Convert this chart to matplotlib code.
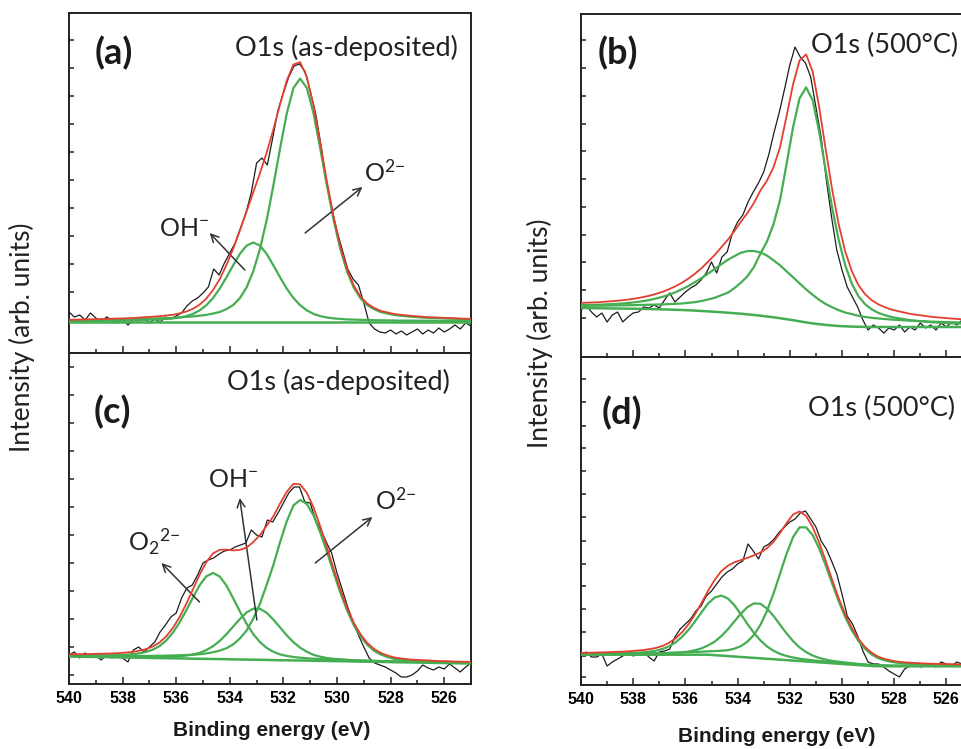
import numpy as np
import matplotlib
matplotlib.use("Agg")
import matplotlib.pyplot as plt
from matplotlib.font_manager import FontProperties
from matplotlib.ticker import MultipleLocator

plt.rcParams["font.family"] = ["Lato", "DejaVu Sans"]
plt.rcParams["mathtext.default"] = "regular"

# binding energy grids (eV)
e_fit = np.arange(540.125, 524.8, -0.25)   # fitted curves, 62 points
e_raw = np.arange(540.0, 524.95, -0.2)     # measured spectra, 76 points

x_ticks = [540, 538, 536, 534, 532, 530, 528, 526]
x_labels = ["540", "538", "536", "534", "532", "530", "528", "526"]

# ---------------- (a) O1s as-deposited ----------------
a_raw = [41, 36, 38, 33, 40, 35, 31, 36, 33, 30,
         34, 28, 33, 32, 35, 30, 34, 31, 36, 34,
         37, 40, 47, 52, 55, 60, 66, 84, 78, 90,
         100, 110, 125, 140, 160, 190, 195, 188, 215, 243,
         260, 276, 287, 289, 282, 262, 240, 208, 172, 145,
         122, 103, 84, 74, 68, 50, 30, 24, 21, 20,
         23, 19, 22, 18, 21, 24, 19, 23, 20, 25,
         21, 24, 28, 24, 30, 27]
a_bg = 31.5
a_o2 = [1.1, 1.2, 1.3, 1.4, 1.4, 1.5, 1.6, 1.8, 1.9, 2.0, 2.2, 2.4,
        2.7, 2.9, 3.2, 3.4, 3.6, 4.1, 4.6, 5.1, 5.8, 6.6, 8.0, 9.5, 12.4, 16.5,
        23.3, 34.0, 50.1, 72.4, 101.3, 135.8, 173, 208, 233.5, 243,
        233.5, 208, 173, 135.8, 101.3, 72.4, 50.1, 34.0, 23.3, 16.5, 12.4, 9.5,
        8.0, 6.6, 5.8, 5.1, 4.6, 4.1,
        3.6, 3.4, 3.2, 2.9, 2.7, 2.4, 2.2, 2.0]
a_oh = [0.6, 0.6, 0.6, 0.7, 0.8, 0.9, 0.9, 1.0, 1.1, 1.2, 1.3, 1.5,
        1.7, 1.9, 2.1, 2.6, 3.1, 4.0, 5.4, 7.6, 11.1, 16.3, 23.5, 32.9, 44.2,
        56.2, 67.6, 75.9, 79, 75.9, 67.6, 56.2, 44.2, 32.9, 23.5, 16.3, 11.1,
        7.6, 5.4, 4.0, 3.1, 2.6, 2.1, 1.9, 1.7, 1.5, 1.3, 1.2, 1.1, 1.0, 0.9,
        0.9, 0.8, 0.8,
        0.7, 0.7, 0.6, 0.6, 0.6, 0.5, 0.5, 0.5]

# ---------------- (b) O1s 500 C ----------------
b_raw = [47, 52, 45, 40, 44, 35, 42, 45, 35, 40,
         44, 45, 50, 49, 52, 49, 57, 64, 55, 60,
         65, 69, 72, 77, 84, 95, 84, 100, 105, 124,
         135, 142, 155, 165, 174, 185, 203, 225, 245, 268,
         292, 310, 300, 294, 280, 250, 220, 177, 140, 107,
         87, 70, 60, 50, 37, 27, 32, 29, 24, 29,
         27, 32, 25, 30, 27, 34, 29, 32, 27, 34,
         30, 35, 32, 37, 34, 37]
b_bg = [49.0, 49.0, 48.9, 48.8, 48.7, 48.6, 48.5, 48.4, 48.3, 48.2,
        48.1, 48.0, 47.8, 47.6, 47.4, 47.2, 47.0, 46.7, 46.4, 46.0,
        45.6, 45.2, 44.8, 44.3, 43.8, 43.3, 42.7, 42.0, 41.3, 40.5,
        39.7, 38.8, 37.8, 36.8, 35.7, 34.6, 33.6, 32.8, 32.1, 31.5,
        31.0, 30.7, 30.4, 30.2, 30.1, 30.0, 30.0, 30.0, 30.0, 30.0,
        30.0, 30.0, 30.0, 30.0, 30.0, 30.0, 30.0, 30.0, 30.0, 30.0,
        30.0, 30.0]
b_o2 = [2.2, 2.3, 2.4, 2.5, 2.7, 2.9, 3.1, 3.3, 3.5, 3.7,
        4.0, 4.3, 4.6, 5.0, 5.5, 6.0, 6.5, 7.5, 8.5, 10,
        12, 14, 17, 20, 25, 31, 38, 48, 62, 75,
        93, 118, 155, 193, 223, 235,
        223.3, 192.7, 154.6, 117.5, 85.8, 60.9, 43.0, 30.8, 23.0, 17.9,
        14.3, 12.0, 10.1, 8.9, 7.8, 6.8, 6.1, 5.6, 4.9, 4.5,
        4.2, 3.8, 3.5, 3.3, 3.0, 2.8]
b_oh = [2.7, 2.9, 3.2, 3.4, 3.8, 4.2, 4.6, 5.2, 5.9, 6.7,
        7.8, 9.0, 10.7, 12.6, 14.9, 17.6, 20.9, 24.4, 28.6, 33.0,
        37.9, 42.9, 47.9, 52.9, 57.0, 60.9, 63.2, 64,
        63.2, 60.9, 57.0, 52.9, 47.9, 42.9, 37.9, 33.0, 28.6, 24.4,
        20.9, 18.2, 15.8, 13.8, 12.5, 11.0, 10.0, 9.2, 8.6, 8.0,
        7.5, 7.1, 6.7, 6.3, 6.0, 5.7, 5.4, 5.2, 5.0, 4.8,
        4.6, 4.4, 4.2, 4.0]

# ---------------- (c) O1s as-deposited ----------------
c_raw = [30, 33, 27, 32, 28, 30, 25, 30, 27, 29,
         27, 23, 35, 38, 33, 38, 43, 53, 60, 68,
         72, 87, 97, 100, 110, 122, 125, 127, 131, 134,
         135, 138, 140, 142, 155, 150, 148, 165, 163, 172,
         182, 192, 198, 198, 183, 182, 165, 155, 143, 132,
         112, 95, 78, 63, 50, 38, 27, 22, 20, 18,
         15, 12, 8, 8, 10, 14, 20, 17, 15, 18,
         16, 21, 17, 13, 18, 22]
c_bg = [28.6, 28.4, 28.3, 28.2, 28.1, 28.0, 27.9, 27.7, 27.6, 27.5,
        27.4, 27.3, 27.2, 27.0, 26.9, 26.8, 26.7, 26.6, 26.5, 26.3,
        26.2, 26.1, 26.0, 25.9, 25.8, 25.6, 25.5, 25.4, 25.3, 25.2,
        25.1, 24.9, 24.8, 24.7, 24.6, 24.5, 24.4, 24.2, 24.1, 24.0,
        23.9, 23.8, 23.7, 23.5, 23.4, 23.3, 23.2, 23.1, 23.0, 22.8,
        22.7, 22.6, 22.5, 22.4, 22.3, 22.1, 22.0, 21.9, 21.8, 21.7,
        21.6, 21.4]
c_o22 = [1.0, 1.1, 1.2, 1.3, 1.5, 1.6, 1.8, 2.1, 2.3, 2.8,
         3.4, 4.4, 5.8, 8.3, 12.0, 17.7, 25.6, 35.9, 48.1, 61.2,
         73.6, 82.6, 86,
         82.6, 73.6, 61.2, 48.1, 35.9, 25.6, 17.7, 12.0, 8.3, 5.8,
         4.4, 3.4, 2.8, 2.3, 2.1, 1.8, 1.6, 1.5, 1.3, 1.2,
         1.1, 1.0, 0.9, 0.9, 0.8, 0.8, 0.7, 0.7, 0.7, 0.6,
         0.6, 0.6, 0.6, 0.5, 0.5, 0.5, 0.5, 0.5, 0.4]
c_oh = [0.4, 0.4, 0.4, 0.4, 0.5, 0.5, 0.6, 0.6, 0.7, 0.8,
        0.8, 0.9, 1.0, 1.1, 1.3, 1.5, 1.9, 2.3, 3.0, 4.2,
        6.0, 8.8, 12.8, 18.2, 25.0, 32.8, 40.5, 47.1, 51.0,
        51.0, 47.1, 40.5, 32.8, 25.0, 18.2, 12.8, 8.8, 6.0, 4.2,
        3.0, 2.3, 1.9, 1.5, 1.3, 1.1, 1.0, 0.9, 0.8, 0.8,
        0.7, 0.6, 0.6, 0.5, 0.5, 0.4, 0.4, 0.4, 0.4, 0.3,
        0.3, 0.3, 0.3]
c_o2 = [0.8, 0.8, 0.9, 0.9, 1.0, 1.1, 1.1, 1.2, 1.3, 1.4,
        1.5, 1.7, 1.9, 2.1, 2.3, 2.6, 2.8, 3.1, 3.5, 3.9,
        4.6, 5.5, 6.8, 8.5, 11, 15, 21, 29, 41, 56,
        75, 95, 118, 139, 155, 160.5,
        156.6, 145.4, 128.4, 109.1, 88.4, 68.5, 51.0, 36.4, 25.4, 17.0,
        11.2, 7.5, 5.0, 3.4, 2.6, 1.9, 1.6, 1.4, 1.3, 1.1,
        1.0, 1.0, 0.9, 0.8, 0.8, 0.8]

# ---------------- (d) O1s 500 C ----------------
d_raw = [23, 27, 22, 22, 25, 13, 17, 20, 23, 27,
         23, 25, 27, 22, 18, 27, 28, 30, 42, 50,
         55, 60, 68, 73, 83, 88, 95, 102, 107, 110,
         115, 118, 135, 128, 120, 132, 135, 140, 147, 152,
         157, 160, 166, 168, 160, 152, 138, 130, 118, 105,
         85, 63, 55, 43, 28, 17, 15, 15, 12, 8,
         5, 2, 10, 13, 15, 12, 13, 15, 12, 17,
         15, 13, 17, 15, 13, 15]
d_bg = [24.3, 24.3, 24.3, 24.3, 24.3, 24.3, 24.3, 24.3, 24.3, 24.3,
        24.3, 24.3, 24.3, 24.3, 24.3, 24.3, 24.3, 24.3, 24.3, 24.3,
        24.3, 23.8, 23.4, 22.9, 22.5, 22.0, 21.6, 21.1, 20.7, 20.2,
        19.8, 19.3, 18.9, 18.4, 18.0, 17.5, 17.1, 16.6, 16.2, 15.7,
        15.3, 14.8, 14.4, 13.9, 13.5, 13.0, 12.8, 12.8, 12.7, 12.7,
        12.7, 12.7, 12.7, 12.7, 12.7, 12.7, 12.7, 12.7, 12.7, 12.7,
        12.7, 12.7]
d_o22 = [0.7, 0.8, 0.8, 0.9, 1.0, 1.1, 1.3, 1.4, 1.6, 2.0,
         2.3, 3.1, 4.1, 5.8, 8.4, 12.4, 17.9, 25.0, 33.5, 42.7,
         51.4, 57.7, 60,
         57.7, 51.4, 42.7, 33.5, 25.0, 17.9, 12.4, 8.4, 5.8, 4.1,
         3.1, 2.3, 2.0, 1.6, 1.4, 1.3, 1.1, 1.0, 0.9, 0.8,
         0.8, 0.7, 0.7, 0.6, 0.6, 0.6, 0.5, 0.5, 0.5, 0.5,
         0.4, 0.4, 0.4, 0.4, 0.4, 0.3, 0.3, 0.3, 0.3]
d_oh = [0.4, 0.4, 0.5, 0.5, 0.6, 0.6, 0.7, 0.7, 0.8, 0.9,
        1.0, 1.1, 1.2, 1.4, 1.7, 2.0, 2.4, 3.2, 4.5, 6.4,
        9.4, 13.6, 19.5, 26.7, 35.0, 43.3, 50.3, 54.5,
        54.5, 50.3, 43.3, 35.0, 26.7, 19.5, 13.6, 9.4, 6.4, 4.5,
        3.2, 2.4, 2.0, 1.7, 1.4, 1.2, 1.1, 1.0, 0.9, 0.8,
        0.7, 0.7, 0.6, 0.6, 0.5, 0.5, 0.4, 0.4, 0.4, 0.4,
        0.3, 0.3, 0.3, 0.3]
d_o2 = [0.7, 0.7, 0.7, 0.8, 0.8, 0.9, 0.9, 1.0, 1.1, 1.2,
        1.3, 1.4, 1.5, 1.6, 1.8, 2.0, 2.2, 2.4, 2.7, 3.0,
        3.4, 4.1, 4.9, 5.9, 7.8, 10.9, 15.7, 23.0, 33.5, 47.8,
        65.6, 85.9, 106.2, 123.5, 133.7,
        134.1, 126.9, 113.9, 97.5, 79.7, 62.4, 47.1, 34.3, 24.3, 16.9,
        11.7, 8.2, 5.9, 4.5, 3.5, 2.9, 2.5, 2.2, 2.0, 1.8,
        1.6, 1.5, 1.4, 1.3, 1.2, 1.1, 1.0]

BLACK = "#1c1c1c"
RED = "#e2402f"
GREEN = "#45ad52"
ARROW = "#333333"

W, H = 962, 749
fig = plt.figure(figsize=(W / 100, H / 100), dpi=100)


def add_panel(x0, top, x1, bottom):
    return fig.add_axes([x0 / W, 1 - bottom / H, (x1 - x0) / W, (bottom - top) / H])


tick_font = FontProperties(family=["Liberation Sans", "DejaVu Sans"],
                           weight="bold", size=11.5)


def draw(ax, raw, bg, comps, ylim, yticks, show_x):
    base = np.zeros(len(e_fit)) + np.asarray(bg, dtype=float)
    comps = [np.asarray(c, dtype=float) for c in comps]
    ax.plot(e_raw, raw, color=BLACK, lw=0.9, zorder=2)
    ax.plot(e_fit, base, color=GREEN, lw=1.8, zorder=3)
    for c in comps:
        ax.plot(e_fit, base + c, color=GREEN, lw=1.6, zorder=3)
    ax.plot(e_fit, base + np.sum(comps, axis=0), color=RED, lw=1.3, zorder=4)

    ax.set_xlim(540, 525)
    ax.set_ylim(*ylim)
    ax.set_xticks(x_ticks)
    ax.xaxis.set_minor_locator(MultipleLocator(1))
    ax.set_yticks(yticks)
    ax.tick_params(axis="both", which="both", direction="in", top=False,
                   right=False, labelleft=False, width=1.1, color="#222222")
    ax.tick_params(axis="x", which="major", length=5, pad=5)
    ax.tick_params(axis="x", which="minor", length=3)
    ax.tick_params(axis="y", which="major", length=3.5)
    if show_x:
        ax.set_xticklabels(x_labels, fontproperties=tick_font)
    else:
        ax.tick_params(axis="x", labelbottom=False)
    for sp in ax.spines.values():
        sp.set_linewidth(1.4)
        sp.set_color("#222222")


def arrow(ax, tail, head):
    ax.annotate("", xy=head, xytext=tail,
                arrowprops=dict(arrowstyle="->", color=ARROW, lw=1.1,
                                mutation_scale=14, shrinkA=0, shrinkB=0))


ax_a = add_panel(69, 13, 471, 353)
ax_c = add_panel(69, 353, 471, 684)
ax_b = add_panel(581, 14, 972.5, 357)
ax_d = add_panel(581, 357, 972.5, 685)

draw(ax_a, a_raw, a_bg, [a_o2, a_oh], (0, 340),
     [33, 61, 89, 117, 145, 173, 201, 229, 257, 285, 313], False)
draw(ax_c, c_raw, c_bg, [c_o22, c_oh, c_o2], (1, 332),
     [10, 38, 66, 94, 122, 150, 178, 206, 234, 262, 290, 318], True)
draw(ax_b, b_raw, b_bg, [b_o2, b_oh], (0, 343),
     [39, 67, 95, 122, 150, 178, 206, 233, 261, 289, 317], False)
draw(ax_d, d_raw, d_bg, [d_o22, d_oh, d_o2], (-6, 322),
     [2, 23, 47, 70, 93, 115, 138, 162, 185, 208, 231, 253, 277, 300], True)

# panel letters and titles
for (x, y, s) in [(114, 53, "(a)"), (618, 53, "(b)"), (112, 412, "(c)"), (622, 413, "(d)")]:
    fig.text(x / W, 1 - y / H, s, fontsize=26, fontweight="bold",
             ha="center", va="center", color="#1a1a1a")
title_kw = dict(fontsize=19.5, va="center", color="#222222")
fig.text(458 / W, 1 - 48 / H, "O1s (as-deposited)", ha="right", **title_kw)
fig.text(958 / W, 1 - 45 / H, "O1s (500°C)", ha="right", **title_kw)
fig.text(450 / W, 1 - 382 / H, "O1s (as-deposited)", ha="right", **title_kw)
fig.text(955 / W, 1 - 408 / H, "O1s (500°C)", ha="right", **title_kw)

# peak assignments
lab = dict(fontsize=18, ha="center", va="center", color="#222222")
ax_a.text(535.69, 125, "OH$^{{-}}$", **lab)
arrow(ax_a, (533.44, 83), (534.75, 120))
ax_a.text(528.23, 181, "O$^{2{-}}$", **lab)
arrow(ax_a, (531.19, 120), (529.05, 166))

ax_c.text(536.81, 143, "O$_2$$^{2{-}}$", **lab)
arrow(ax_c, (535.13, 83), (536.55, 122))
ax_c.text(533.89, 205, "OH$^{{-}}$", **lab)
arrow(ax_c, (532.99, 65), (533.63, 187))
ax_c.text(527.81, 185, "O$^{2{-}}$", **lab)
arrow(ax_c, (530.81, 122), (528.68, 168))

# axis titles
xfont = FontProperties(family=["Liberation Sans", "DejaVu Sans"],
                       weight="bold", size=15)
fig.text(272 / W, 1 - 731 / H, "Binding energy (eV)", fontproperties=xfont,
         ha="center", va="center", color="#1a1a1a")
fig.text(777 / W, 1 - 737 / H, "Binding energy (eV)", fontproperties=xfont,
         ha="center", va="center", color="#1a1a1a")
fig.text(22 / W, 1 - 337 / H, "Intensity (arb. units)", fontsize=19,
         rotation=90, ha="center", va="center", color="#222222")
fig.text(540 / W, 1 - 333 / H, "Intensity (arb. units)", fontsize=19,
         rotation=90, ha="center", va="center", color="#222222")

fig.savefig("out.png", dpi=100)
